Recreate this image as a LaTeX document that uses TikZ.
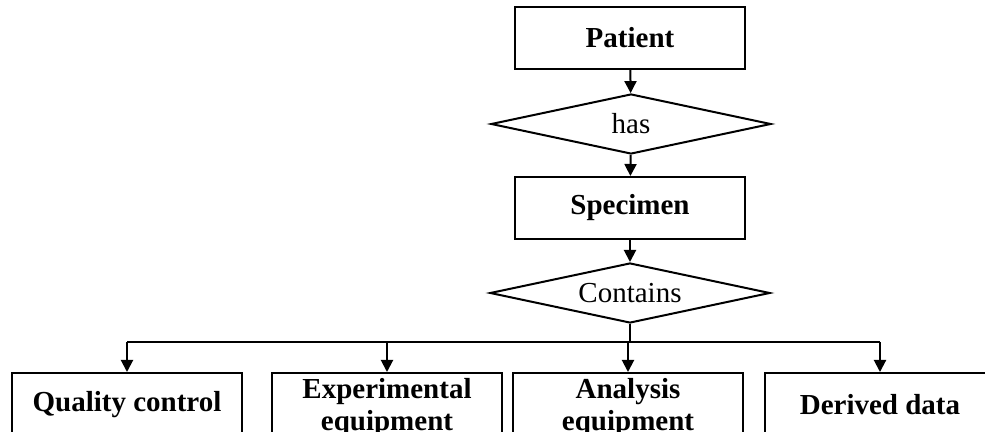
\documentclass[tikz,border=0pt]{standalone}
\usepackage{fontspec}
\setmainfont{Liberation Serif}
\usepackage{tikz}
\usetikzlibrary{shapes.geometric,arrows.meta,calc}

\begin{document}
\begin{tikzpicture}[x=0.5pt,y=-0.5pt,line width=1pt,font=\fontsize{14.5}{16}\selectfont]
    % `entity' is used for the boxes (bold labels).
    % `relation' is used for the diamonds between them.
    % `link' is used for the arrows.
    \tikzstyle{entity} = [draw,fill=white,minimum width=115pt,minimum height=31pt,inner sep=2pt,align=center,font=\fontsize{14.5}{16}\selectfont\bfseries]
    \tikzstyle{relation} = [draw,fill=white,shape=diamond,aspect=4.6,minimum width=140pt,minimum height=30pt,inner sep=0pt]
    \tikzstyle{link} = [-{Triangle[length=6pt,width=6pt]}]
    %
    \useasboundingbox (0,0) rectangle (985,432);
    \clip (0,0) rectangle (985,432);
    %
    \node[entity] (patient) at (630,38) {Patient};
    \node[relation] (has) at (631,124) {has};
    \node[entity] (specimen) at (630,208) {Specimen};
    \node[relation] (contains) at (630,293) {Contains};
    \coordinate (split) at (630,342);
    %
    \node[entity,minimum height=32pt] (quality) at (127,405) {Quality control};
    \node[entity,minimum height=35pt] (experimental) at (387,408) {Experimental\\equipment};
    \node[entity,minimum height=35pt] (analysis) at (628,408) {Analysis\\equipment};
    \node[entity,minimum height=32pt] (derived) at (880,405) {Derived data};
    %
    % Draw arrows down the middle.
    \draw[link] (patient) -- (has);
    \draw[link] (has) -- (specimen);
    \draw[link] (specimen) -- (contains);
    % Draw the branch to the bottom row.
    \draw (contains) -- (split);
    \draw (split -| quality) -- (split -| derived);
    \foreach \n in {quality,experimental,analysis,derived}
        \draw[link] (split -| \n) -- (\n);
\end{tikzpicture}
\end{document}
